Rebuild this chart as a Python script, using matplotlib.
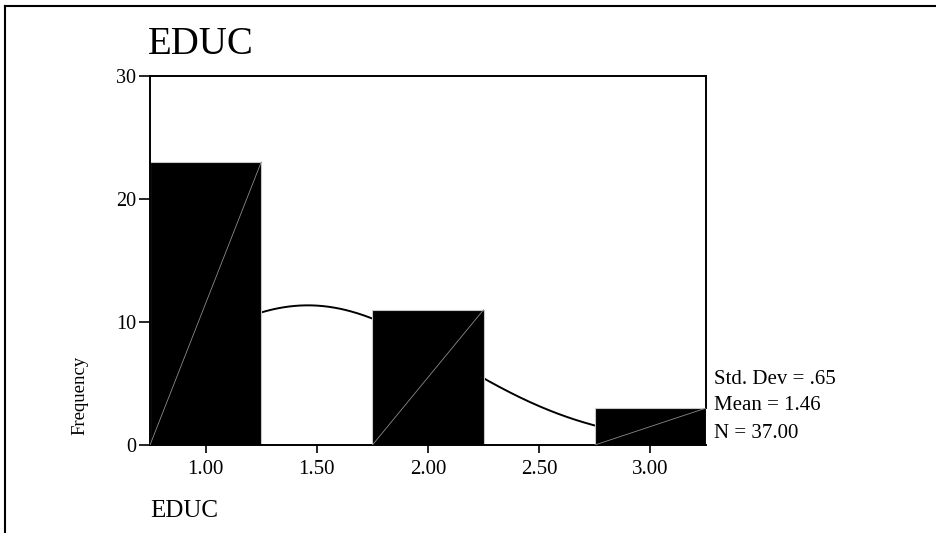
import numpy as np
import matplotlib.pyplot as plt
from matplotlib.lines import Line2D

# data
bin_centers = [1.0, 2.0, 3.0]
counts = [23, 11, 3]
bin_width = 0.5
mean_val = 1.46
std_val = 0.65
n_val = 37
xticks = [1.0, 1.5, 2.0, 2.5, 3.0]
xtick_labels = ['1.00', '1.50', '2.00', '2.50', '3.00']
yticks = [0, 10, 20, 30]

plt.rcParams['font.family'] = ['Liberation Serif', 'DejaVu Serif']

fig = plt.figure(figsize=(9.36, 5.33), dpi=100)
ax = fig.add_axes((150/936, 1-445/533, 556/936, 369/533))

# normal curve, sits behind the bars
xs = np.linspace(0.75, 3.25, 400)
pdf = np.exp(-(xs - mean_val)**2 / (2*std_val**2)) / (std_val*np.sqrt(2*np.pi))
ax.plot(xs, n_val*bin_width*pdf, color='black', lw=1.4, zorder=1)

# bars with the thin diagonal line inside
ax.bar(bin_centers, counts, width=bin_width, color='black',
       edgecolor='#c8c8c8', linewidth=0.8, zorder=2)
for c, h in zip(bin_centers, counts):
    ax.plot([c - bin_width/2, c + bin_width/2], [0, h], color='#8a8a8a',
            lw=0.6, zorder=3)

ax.set_xlim(0.75, 3.25)
ax.set_ylim(0, 30)
ax.set_xticks(xticks)
ax.set_xticklabels(xtick_labels)
ax.set_yticks(yticks)
ax.tick_params(axis='x', length=6, width=1.2, labelsize=15, pad=5)
ax.tick_params(axis='y', length=8, width=1.2, labelsize=14.5, pad=2)
for s in ax.spines.values():
    s.set_linewidth(1.4)
ax.spines['right'].set_bounds(3, 30)

fig.text(148/936, 1-44/533, 'EDUC', fontsize=28, va='center', ha='left')
fig.text(150/936, 1-511/533, 'EDUC', fontsize=18, va='center', ha='left')
fig.text(80/936, 1-395/533, 'Frequency', fontsize=13.5, rotation=90,
         va='center', ha='center')

stats = ['Std. Dev = %s' % ('%.2f' % std_val).lstrip('0'),
         'Mean = %.2f' % mean_val,
         'N = %.2f' % n_val]
for i, t in enumerate(stats):
    fig.text(714/936, 1-(379 + 27*i)/533, t, fontsize=15, va='center', ha='left')

# outer frame (top and left edge only)
fig.add_artist(Line2D([5/936, 1], [1-6/533, 1-6/533], color='black', lw=1.5))
fig.add_artist(Line2D([5/936, 5/936], [0, 1-6/533], color='black', lw=1.5))

fig.savefig('out.png', dpi=100)
